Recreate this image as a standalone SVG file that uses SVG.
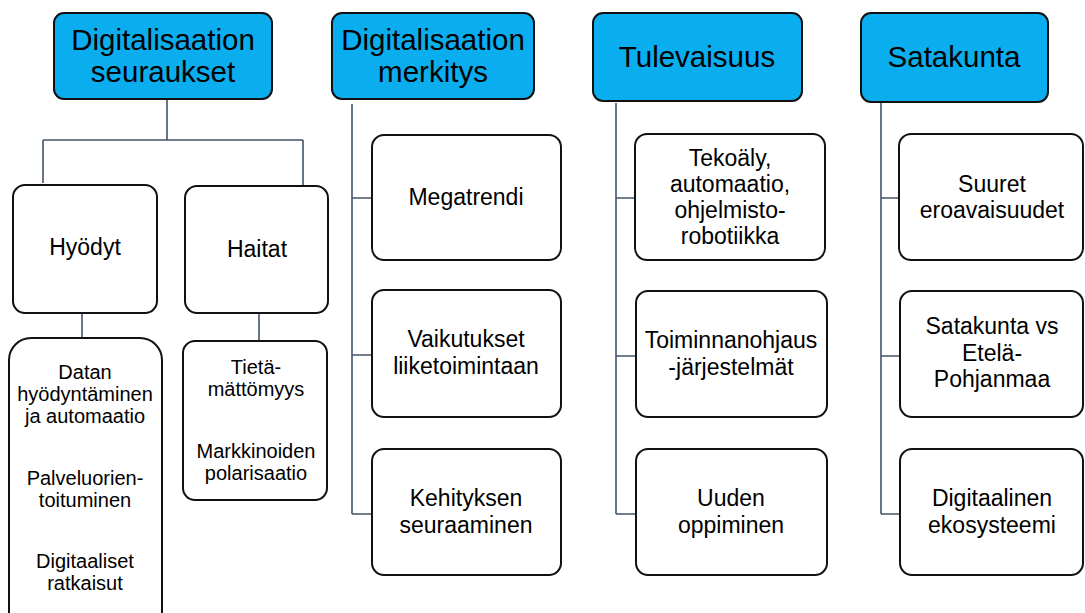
<svg xmlns="http://www.w3.org/2000/svg" width="1085" height="613" viewBox="0 0 1085 613">
<style>
.top{fill:#0AADEE;stroke:#111;stroke-width:2}
.box{fill:#fff;stroke:#111;stroke-width:2}
.ln{fill:none;stroke:#44546A;stroke-width:1.6}
text{font-family:"Liberation Sans",Arial,sans-serif;fill:#000;text-anchor:middle}
.t{font-size:29.5px}
.m{font-size:23px}
.s{font-size:20px}
</style>
<rect width="1085" height="613" fill="#fff"/>
<g id="connectors">
<path class="ln" d="M167 99V140M43 140H303M43 140V183M303 140V185"/>
<path class="ln" d="M82 313V338M259 313V341"/>
<path class="ln" d="M352 104V514M352 198H372M352 355H372M352 514H372"/>
<path class="ln" d="M616 103V514M616 198H635M616 356H635M616 514H635"/>
<path class="ln" d="M881 103V514M881 198H899M881 356H900M881 514H900"/>
</g>
<g id="n-seuraukset"><rect class="top" x="54" y="13" width="218" height="86" rx="10"/><text class="t" x="163" y="50">Digitalisaation</text><text class="t" x="163" y="82">seuraukset</text></g>
<g id="n-merkitys"><rect class="top" x="332" y="13" width="202" height="86" rx="10"/><text class="t" x="433" y="50">Digitalisaation</text><text class="t" x="433" y="82">merkitys</text></g>
<g id="n-tulevaisuus"><rect class="top" x="593" y="13" width="209" height="88" rx="10"/><text class="t" x="697" y="67">Tulevaisuus</text></g>
<g id="n-satakunta"><rect class="top" x="861" y="13" width="187" height="89" rx="10"/><text class="t" x="954" y="67">Satakunta</text></g>
<g id="n-hyodyt"><rect class="box" x="13" y="185" width="144" height="128" rx="12"/><text class="m" x="85" y="255">Hyödyt</text></g>
<g id="n-haitat"><rect class="box" x="185" y="186" width="143" height="127" rx="12"/><text class="m" x="257" y="257">Haitat</text></g>
<g id="n-hyodyt-list"><rect class="box" x="9" y="338" width="153" height="300" rx="22"/>
<text class="s" x="85" y="379">Datan</text><text class="s" x="85" y="401">hyödyntäminen</text><text class="s" x="85" y="423">ja automaatio</text>
<text class="s" x="85" y="485">Palveluorien-</text><text class="s" x="85" y="507">toituminen</text>
<text class="s" x="85" y="568">Digitaaliset</text><text class="s" x="85" y="590">ratkaisut</text></g>
<g id="n-haitat-list"><rect class="box" x="183" y="341" width="144" height="159" rx="12"/>
<text class="s" x="256" y="374">Tietä-</text><text class="s" x="256" y="396">mättömyys</text>
<text class="s" x="256" y="458">Markkinoiden</text><text class="s" x="256" y="480">polarisaatio</text></g>
<g id="n-megatrendi"><rect class="box" x="372" y="135" width="189" height="125" rx="12"/><text class="m" x="466" y="205">Megatrendi</text></g>
<g id="n-vaikutukset"><rect class="box" x="372" y="290" width="189" height="127" rx="12"/><text class="m" x="466" y="347">Vaikutukset</text><text class="m" x="466" y="374">liiketoimintaan</text></g>
<g id="n-kehityksen"><rect class="box" x="372" y="449" width="189" height="126" rx="12"/><text class="m" x="466" y="506">Kehityksen</text><text class="m" x="466" y="533">seuraaminen</text></g>
<g id="n-tekoaly"><rect class="box" x="635" y="134" width="190" height="126" rx="12"/><text class="m" x="730" y="166">Tekoäly,</text><text class="m" x="730" y="192">automaatio,</text><text class="m" x="730" y="218">ohjelmisto-</text><text class="m" x="730" y="244">robotiikka</text></g>
<g id="n-toiminnanohjaus"><rect class="box" x="636" y="291" width="191" height="126" rx="12"/><text class="m" x="731" y="348">Toiminnanohjaus</text><text class="m" x="731" y="375">-järjestelmät</text></g>
<g id="n-uuden"><rect class="box" x="636" y="449" width="191" height="126" rx="12"/><text class="m" x="731" y="506">Uuden</text><text class="m" x="731" y="533">oppiminen</text></g>
<g id="n-suuret"><rect class="box" x="899" y="134" width="184" height="126" rx="12"/><text class="m" x="992" y="192">Suuret</text><text class="m" x="992" y="218">eroavaisuudet</text></g>
<g id="n-satakunta-vs"><rect class="box" x="900" y="291" width="183" height="126" rx="12"/><text class="m" x="992" y="334">Satakunta vs</text><text class="m" x="992" y="361">Etelä-</text><text class="m" x="992" y="387">Pohjanmaa</text></g>
<g id="n-ekosysteemi"><rect class="box" x="900" y="449" width="183" height="126" rx="12"/><text class="m" x="992" y="506">Digitaalinen</text><text class="m" x="992" y="533">ekosysteemi</text></g>
</svg>
